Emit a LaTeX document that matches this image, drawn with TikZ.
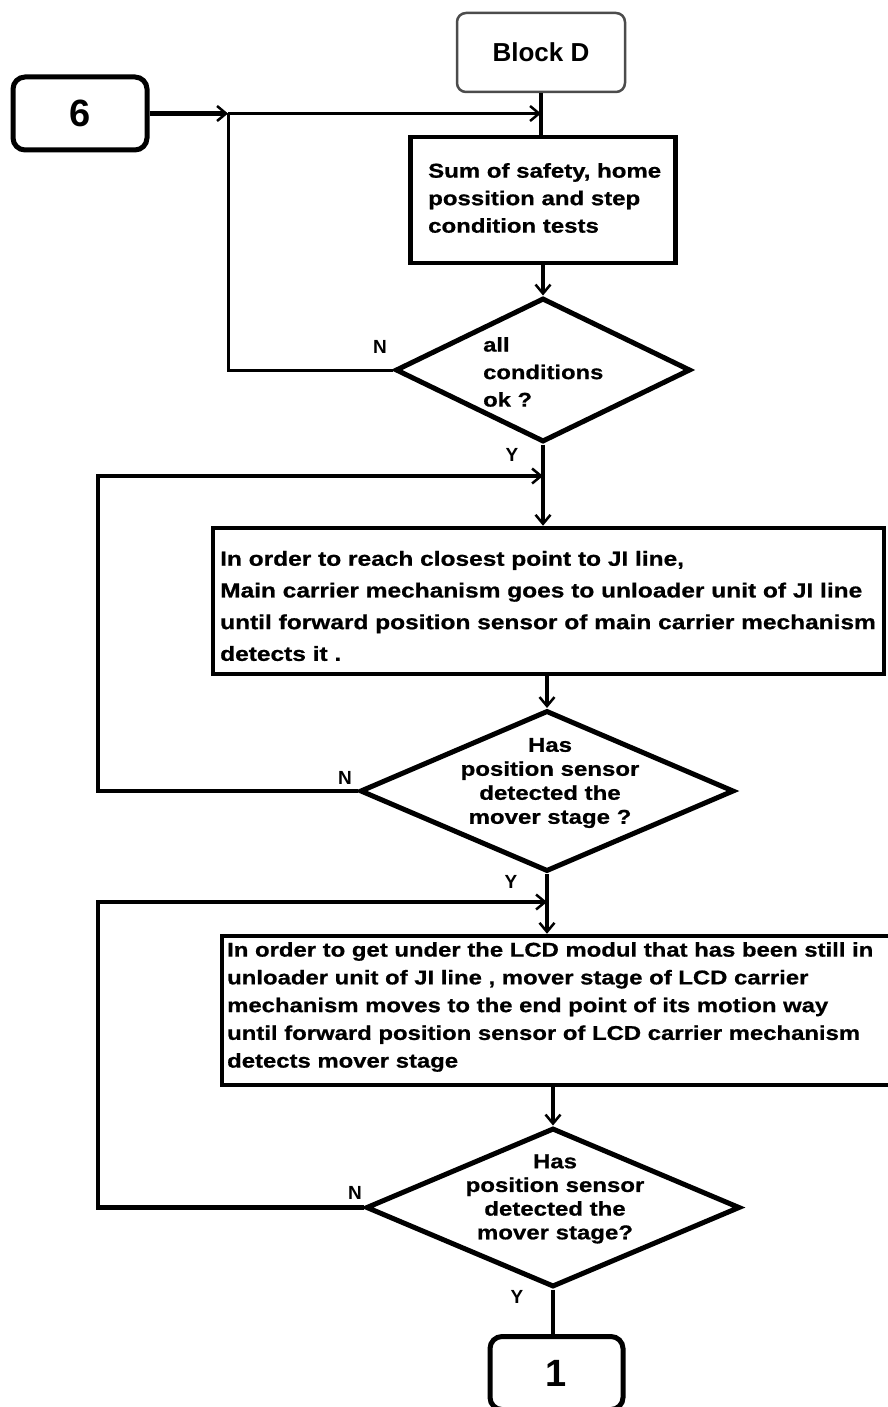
\documentclass[tikz,border=0pt]{standalone}
\usepackage{fontspec}
\setmainfont{Liberation Sans}
\newfontfamily\wfont[FakeStretch=1.2, BoldFeatures={FakeBold=0.8}]{Liberation Sans}
\usetikzlibrary{shapes.geometric,arrows.meta}
\tikzset{
  box/.style={draw, line width=4.5pt, fill=white, inner sep=0pt},
  term/.style={draw, line width=5pt, rounded corners=12pt, fill=white, inner sep=0pt,
    font=\bfseries\fontsize{38}{38}\selectfont},
  startbox/.style={draw=black!70, line width=2.5pt, rounded corners=9pt, fill=white, inner sep=0pt,
    font=\bfseries\fontsize{26}{26}\selectfont},
  dia/.style={diamond, draw, line width=5pt, fill=white, inner sep=0pt},
  conn/.style={line width=4.5pt},
  thinconn/.style={line width=3pt},
  arr/.style={-{Straight Barb[length=9pt,width=15pt,line width=2.5pt]}},
  txt/.style={inner sep=0pt},
  lbl/.style={inner sep=0pt, font=\bfseries\fontsize{19}{19}\selectfont}
}
\begin{document}
\begin{tikzpicture}[x=1pt,y=-1pt]
\useasboundingbox (0,0) rectangle (888,1407);
\clip (0,0) rectangle (888,1407);
\fill[white] (0,0) rectangle (888,1407);

% nodes
\node[startbox, minimum width=168pt, minimum height=79pt] (blockd) at (541,52.5) {Block D};
\node[term, minimum width=134pt, minimum height=73pt] (six) at (80,113.5) {6};
\node[box, minimum width=265pt, minimum height=126pt] (b1) at (543,200) {};
\node[dia, minimum width=295pt, minimum height=144pt] (d1) at (543,370) {};
\node[box, minimum width=671pt, minimum height=146pt] (b2) at (548.5,601) {};
\node[dia, minimum width=374pt, minimum height=161pt] (d2) at (547,791) {};
\node[box, minimum width=673pt, minimum height=149pt] (b3) at (558.5,1010.5) {};
\node[dia, minimum width=374pt, minimum height=159pt] (d3) at (553,1207.5) {};
\node[term, minimum width=133pt, minimum height=73pt] (one) at (556.5,1373) {1};

% texts
\node[txt, anchor=west, align=left, font=\wfont\bfseries\fontsize{20}{27.5}\selectfont] (t1) at (428,198)
  {Sum of safety, home\\possition and step\\condition tests};
\node[txt, anchor=west, align=left, font=\wfont\bfseries\fontsize{19.8}{27.5}\selectfont] (td1) at (483,372)
  {all\\conditions\\ok ?};
\node[txt, anchor=west, align=left, font=\wfont\bfseries\fontsize{20.4}{31.7}\selectfont] (t2) at (220,606)
  {In order to reach closest point to JI line,\\Main carrier mechanism goes to unloader unit of JI line\\until forward position sensor of main carrier mechanism\\detects it .};
\node[txt, align=center, font=\wfont\bfseries\fontsize{20}{24}\selectfont] (td2) at (550,783)
  {Has\\position sensor\\detected the\\mover stage ?};
\node[txt, anchor=west, align=left, font=\wfont\bfseries\fontsize{19.9}{27.75}\selectfont] (t3) at (227,1007)
  {In order to get under the LCD modul that has been still in\\unloader unit of JI line , mover stage of LCD carrier\\mechanism moves to the end point of its motion way\\until forward position sensor of LCD carrier mechanism\\detects mover stage};
\node[txt, align=center, font=\wfont\bfseries\fontsize{20}{23.7}\selectfont] (td3) at (555,1199)
  {Has\\position sensor\\detected the\\mover stage?};

% labels
\node[lbl] (n1) at (380,347) {N};
\node[lbl] (y1) at (512,455) {Y};
\node[lbl] (n2) at (345,778) {N};
\node[lbl] (y2) at (511,882) {Y};
\node[lbl] (n3) at (355,1193) {N};
\node[lbl] (y3) at (517,1297) {Y};

% coordinates
\coordinate (j1) at (228,113.5);
\coordinate (k1) at (98,476);
\coordinate (k2) at (98,902);

% connectors
\draw[conn] (blockd.south) -- (blockd.south |- b1.north);
\draw[conn, line width=5pt, arr] (six.east) -- (j1);
\draw[thinconn, arr] (j1) -- (j1 -| blockd.south);
\draw[thinconn] (d1.west) -| (j1);
\draw[conn, arr] (b1.south) -- (b1.south |- d1.north);
\draw[conn, arr] (d1.south) -- (d1.south |- b2.north);
\draw[conn, arr] (d2.west) -| (k1) -- (k1 -| d1.south);
\draw[conn, arr] (d2.north |- b2.south) -- (d2.north);
\draw[conn, arr] (d2.south) -- (d2.south |- b3.north);
\draw[conn, arr] (d3.west) -| (k2) -- (k2 -| d2.south);
\draw[conn, arr] (d3.north |- b3.south) -- (d3.north);
\draw[conn] (d3.south) -- (d3.south |- one.north);
\end{tikzpicture}
\end{document}
